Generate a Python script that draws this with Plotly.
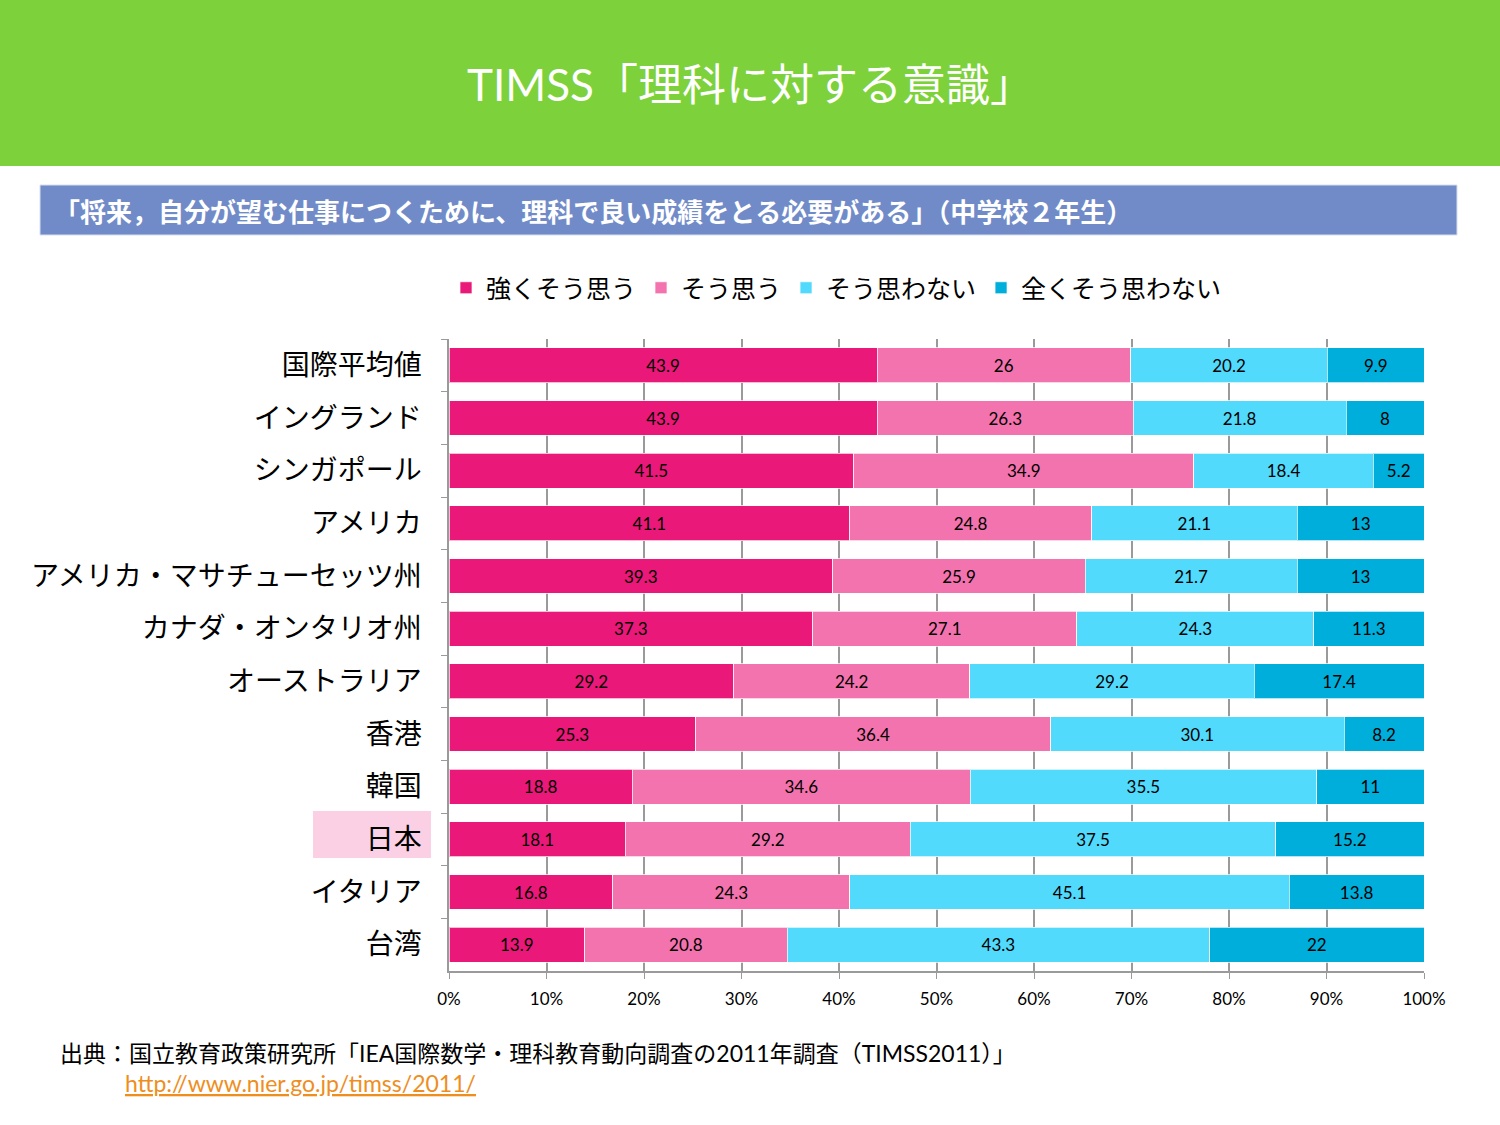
import plotly.graph_objects as go

# data (percent of students)
countries = ["国際平均値", "イングランド", "シンガポール", "アメリカ",
             "アメリカ・マサチューセッツ州", "カナダ・オンタリオ州", "オーストラリア",
             "香港", "韓国", "日本", "イタリア", "台湾"]
strongly_agree = [43.9, 43.9, 41.5, 41.1, 39.3, 37.3, 29.2, 25.3, 18.8, 18.1, 16.8, 13.9]
agree = [26, 26.3, 34.9, 24.8, 25.9, 27.1, 24.2, 36.4, 34.6, 29.2, 24.3, 20.8]
disagree = [20.2, 21.8, 18.4, 21.1, 21.7, 24.3, 29.2, 30.1, 35.5, 37.5, 45.1, 43.3]
strongly_disagree = [9.9, 8, 5.2, 13, 13, 11.3, 17.4, 8.2, 11, 15.2, 13.8, 22]

series_names = ["強くそう思う", "そう思う", "そう思わない", "全くそう思わない"]
series_colors = ["#EA1878", "#F373AE", "#52DAFD", "#00AEDB"]
x_ticks = [0, 10, 20, 30, 40, 50, 60, 70, 80, 90, 100]
x_tick_labels = ["0%", "10%", "20%", "30%", "40%", "50%", "60%", "70%", "80%", "90%", "100%"]

JP = "Noto Sans CJK JP"
LAT = "Lato, Noto Sans CJK JP"

# plot area in pixels, used to place the decorations
L, R, T, B = 449, 1424, 339, 971
W, H = 1500, 1125


def px_x(p):
    return (p - L) / (R - L)


def px_y(p):
    return (B - p) / (B - T)


fig = go.Figure()
for name, vals, col in zip(series_names,
                           [strongly_agree, agree, disagree, strongly_disagree],
                           series_colors):
    fig.add_trace(go.Bar(
        y=countries, x=vals, name=name, orientation="h",
        marker=dict(color=col, line=dict(color="rgba(255,255,255,0.7)", width=1)),
        text=[str(v) for v in vals], texttemplate="%{text}",
        textposition="inside", insidetextanchor="middle", textangle=0,
        textfont=dict(family=LAT, size=17, color="black"),
        constraintext="none",
    ))

shapes = [
    # green title banner
    dict(type="rect", xref="paper", yref="paper", x0=px_x(0), x1=px_x(W),
         y0=px_y(166), y1=px_y(0), fillcolor="#7DD13B", line_width=0, layer="below"),
    # subtitle bar
    dict(type="rect", xref="paper", yref="paper", x0=px_x(40), x1=px_x(1457),
         y0=px_y(235), y1=px_y(185), fillcolor="#718BC8",
         line=dict(color="#D9DEEE", width=1), layer="below"),
    # highlight behind 日本
    dict(type="rect", xref="paper", yref="paper", x0=px_x(313), x1=px_x(431),
         y0=px_y(858), y1=px_y(811), fillcolor="#FBD0E5", line_width=0, layer="below"),
]

annotations = [
    dict(text="TIMSS「理科に対する意識」", x=px_x(750), y=px_y(84), xanchor="center", yanchor="middle",
         font=dict(family=LAT, size=44, color="white")),
    dict(text="<b>「将来，自分が望む仕事につくために、理科で良い成績をとる必要がある」（中学校２年生）</b>",
         x=px_x(52), y=px_y(210), xanchor="left", yanchor="middle",
         font=dict(family=JP, size=26, color="white")),
    dict(text="出典：国立教育政策研究所「IEA国際数学・理科教育動向調査の2011年調査（TIMSS2011）」",
         x=px_x(58), y=px_y(1053), xanchor="left", yanchor="middle",
         font=dict(family=LAT, size=23, color="black")),
    dict(text="http://www.nier.go.jp/timss/2011/",
         x=px_x(123), y=px_y(1083), xanchor="left", yanchor="middle",
         font=dict(family=LAT, size=23, color="#EE8E1E", lineposition="under")),
]
for a in annotations:
    a.update(xref="paper", yref="paper", showarrow=False)

fig.update_layout(
    width=W, height=H,
    margin=dict(l=L, r=W - R, t=T, b=H - B),
    paper_bgcolor="white", plot_bgcolor="white",
    barmode="stack", barnorm="percent", bargap=0.34,
    showlegend=True,
    legend=dict(orientation="h", x=px_x(446), xanchor="left", y=px_y(288), yanchor="middle",
                traceorder="normal", font=dict(family=JP, size=25, color="black"),
                itemclick=False, bgcolor="rgba(0,0,0,0)"),
    shapes=shapes, annotations=annotations,
    font=dict(family=JP, color="black"),
)

fig.update_xaxes(range=[0, 100], tickvals=x_ticks, ticktext=x_tick_labels,
                 showgrid=True, gridcolor="#9A9A9A", gridwidth=1.5,
                 showline=True, linecolor="#9A9A9A", linewidth=1.5,
                 ticks="outside", ticklen=6, tickcolor="#9A9A9A", ticklabelstandoff=6,
                 tickfont=dict(family=LAT, size=17, color="black"), zeroline=False)
fig.update_yaxes(autorange="reversed", showgrid=False,
                 showline=True, linecolor="#9A9A9A", linewidth=1.5,
                 ticks="outside", ticklen=6, tickcolor="#9A9A9A", tickson="boundaries",
                 ticklabelstandoff=20,
                 tickfont=dict(family=JP, size=28, color="black"))

# the page's default body margin would shift the figure by 8px
fig.write_html("out.html", config={"displayModeBar": False},
               post_script="document.body.style.margin='0';")
